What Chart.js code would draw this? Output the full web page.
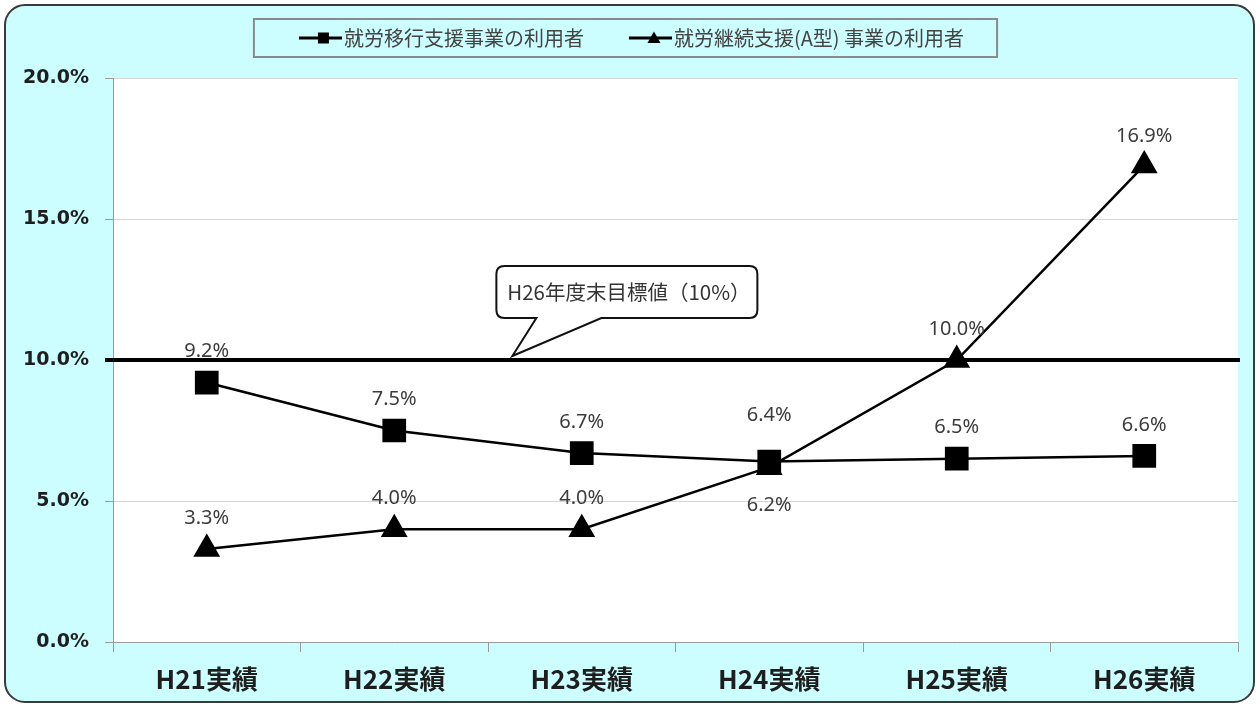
<!DOCTYPE html>
<html>
<head>
<meta charset="utf-8">
<title>就労移行支援事業・就労継続支援(A型)事業の利用者</title>
<script src="https://cdn.jsdelivr.net/npm/chart.js@4.4.1/dist/chart.umd.min.js"></script>
<style>
  html,body{margin:0;padding:0;background:#fff;}
  #wrap{width:1260px;height:707px;position:relative;}
</style>
</head>
<body>
<div id="wrap"><canvas id="lineChart" width="1260" height="707"></canvas></div>
<script>
// data
const categories = ['H21実績','H22実績','H23実績','H24実績','H25実績','H26実績'];
const seriesNames = ['就労移行支援事業の利用者','就労継続支援(A型) 事業の利用者'];
const ikouValues = [9.2, 7.5, 6.7, 6.4, 6.5, 6.6];        // squares
const keizokuAValues = [3.3, 4.0, 4.0, 6.2, 10.0, 16.9];  // triangles
const yTicks = [0, 5, 10, 15, 20];
const targetValue = 10;
const targetLabel = 'H26年度末目標値（10%）';

const CJK = '"Noto Sans CJK JP", "Noto Sans", sans-serif';
const ICON_W = 60;          // legend box width
const ICON_C = ICON_W + 16; // icon canvas width (overhangs 8px each side)

// small legend icons: line with marker, ending right before the text
function makeIcon(style){
  const c = document.createElement('canvas');
  c.width = ICON_C; c.height = 16;
  const g = c.getContext('2d');
  const x0 = ICON_C - 43;
  g.strokeStyle = '#000'; g.fillStyle = '#000'; g.lineWidth = 3;
  g.beginPath(); g.moveTo(x0, 8); g.lineTo(ICON_C, 8); g.stroke();
  g.beginPath();
  if(style === 'rect'){
    g.rect(x0 + 19, 2.5, 11, 11);
  } else {
    g.moveTo(x0 + 25, 1.5); g.lineTo(x0 + 31.5, 13); g.lineTo(x0 + 18.5, 13); g.closePath();
  }
  g.fill();
  return c;
}
const legendIcons = [makeIcon('rect'), makeIcon('triangle')];

// background: rounded cyan panel + white plot area
const panelBg = {
  id:'panelBg',
  afterInit(chart){
    // leave room between legend and plot area
    const lg = chart.legend;
    if(lg){
      const fit = lg.fit.bind(lg);
      lg.fit = function(){ fit(); this.height += 20; };
    }
  },
  beforeDraw(chart){
    const {ctx, chartArea:a} = chart;
    ctx.save();
    ctx.beginPath();
    ctx.roundRect(5, 5, 1249, 697, 20);
    ctx.fillStyle = '#ccfdff';
    ctx.fill();
    ctx.lineWidth = 2;
    ctx.strokeStyle = '#3a3a3a';
    ctx.stroke();
    ctx.fillStyle = '#ffffff';
    ctx.fillRect(a.left, a.top, a.right - a.left, a.bottom - a.top);
    ctx.restore();
  }
};

// box round the legend items
const legendBox = {
  id:'legendBox',
  afterDraw(chart){
    const boxes = chart.legend && chart.legend.legendHitBoxes;
    if(!boxes || !boxes.length) return;
    const left = Math.min(...boxes.map(b=>b.left)) - 20;
    const right = Math.max(...boxes.map(b=>b.left + b.width)) + 33;
    const top = Math.min(...boxes.map(b=>b.top)) - 9;
    const bottom = Math.max(...boxes.map(b=>b.top + b.height)) + 9;
    const ctx = chart.ctx;
    ctx.save();
    ctx.strokeStyle = '#8a8a8a';
    ctx.lineWidth = 2;
    ctx.strokeRect(left, top, right - left, bottom - top);
    ctx.restore();
  }
};

// value labels next to points
const valueLabels = {
  id:'valueLabels',
  afterDatasetsDraw(chart){
    const ctx = chart.ctx;
    ctx.save();
    ctx.font = '20px "Noto Sans", sans-serif';
    ctx.fillStyle = '#3c3c3c';
    ctx.textAlign = 'center';
    ctx.textBaseline = 'middle';
    chart.data.datasets.forEach((ds, i)=>{
      const meta = chart.getDatasetMeta(i);
      const shift = ds.labelShift || {};
      meta.data.forEach((pt, j)=>{
        const dy = shift[j] !== undefined ? shift[j] : -31;
        ctx.fillText(ds.data[j].toFixed(1) + '%', pt.x, pt.y + dy);
      });
    });
    ctx.restore();
  }
};

// target line (10%) with callout
const targetLine = {
  id:'targetLine',
  afterDatasetsDraw(chart){
    const {ctx, chartArea:a, scales:{y}} = chart;
    const ty = y.getPixelForValue(targetValue);
    ctx.save();
    ctx.strokeStyle = '#000';
    ctx.lineWidth = 4;
    ctx.beginPath();
    ctx.moveTo(a.left - 8, ty);
    ctx.lineTo(a.right + 2, ty);
    ctx.stroke();

    // callout
    const tipX = a.left + (a.right - a.left) * 0.355;
    const tipY = ty - 4;
    const bx = tipX - 16, bw = 261, bh = 52, by = ty - 94;
    ctx.beginPath();
    ctx.moveTo(bx + 8, by);
    ctx.lineTo(bx + bw - 8, by);
    ctx.quadraticCurveTo(bx + bw, by, bx + bw, by + 8);
    ctx.lineTo(bx + bw, by + bh - 8);
    ctx.quadraticCurveTo(bx + bw, by + bh, bx + bw - 8, by + bh);
    ctx.lineTo(bx + 105, by + bh);
    ctx.lineTo(tipX, tipY);
    ctx.lineTo(bx + 40, by + bh);
    ctx.lineTo(bx + 8, by + bh);
    ctx.quadraticCurveTo(bx, by + bh, bx, by + bh - 8);
    ctx.lineTo(bx, by + 8);
    ctx.quadraticCurveTo(bx, by, bx + 8, by);
    ctx.closePath();
    ctx.fillStyle = '#fff';
    ctx.fill();
    ctx.lineWidth = 2;
    ctx.strokeStyle = '#111';
    ctx.stroke();
    ctx.font = '20.5px ' + CJK;
    ctx.fillStyle = '#333';
    ctx.textAlign = 'center';
    ctx.textBaseline = 'middle';
    ctx.fillText(targetLabel, bx + bw / 2 + 2, by + bh / 2);
    ctx.restore();
  }
};

const ctx = document.getElementById('lineChart');
new Chart(ctx, {
  type:'line',
  data:{
    labels: categories,
    datasets:[
      {
        label: seriesNames[0],
        data: ikouValues,
        borderColor:'#000',
        backgroundColor:'#000',
        borderWidth:2.5,
        pointStyle:'rect',
        pointRadius:15,
        pointHoverRadius:15,
        tension:0,
        labelShift:{3:-46}
      },
      {
        label: seriesNames[1],
        data: keizokuAValues,
        borderColor:'#000',
        backgroundColor:'#000',
        borderWidth:2.5,
        pointStyle:'triangle',
        pointRadius:13,
        pointHoverRadius:13,
        tension:0,
        labelShift:{3:38, 5:-29}
      }
    ]
  },
  options:{
    responsive:false,
    animation:false,
    layout:{ padding:{ top:8, right:22, bottom:12, left:0 } },
    plugins:{
      legend:{
        position:'top',
        labels:{
          usePointStyle:true,
          pointStyleWidth:ICON_W,
          boxHeight:15,
          padding:20,
          color:'#444',
          font:{ family:CJK, size:20 },
          generateLabels(chart){
            const items = Chart.defaults.plugins.legend.labels.generateLabels(chart);
            items.forEach((it, i)=>{ it.pointStyle = legendIcons[i]; });
            return items;
          }
        }
      },
      tooltip:{ enabled:false }
    },
    scales:{
      x:{
        offset:true,
        grid:{ offset:true, drawOnChartArea:false, color:'#9a9a9a', tickLength:10 },
        border:{ color:'#9a9a9a' },
        ticks:{ color:'#1e1e1e', padding:12, font:{ family:CJK, size:26, weight:'bold' } },
        afterFit(scale){ scale.height = 53; }
      },
      y:{
        min:0, max:20,
        afterBuildTicks(scale){ scale.ticks = yTicks.map(v=>({value:v})); },
        grid:{ color:'#d4d4d4', tickLength:8, tickColor:'#9a9a9a' },
        border:{ color:'#9a9a9a' },
        ticks:{
          color:'#1e1e1e', padding:16,
          font:{ family:'"DejaVu Sans", Verdana, sans-serif', size:19, weight:'bold' },
          callback:(v)=> Number(v).toFixed(1) + '%'
        },
        afterFit(scale){ scale.width = 113; }
      }
    }
  },
  plugins:[panelBg, valueLabels, targetLine, legendBox]
});
</script>
</body>
</html>
